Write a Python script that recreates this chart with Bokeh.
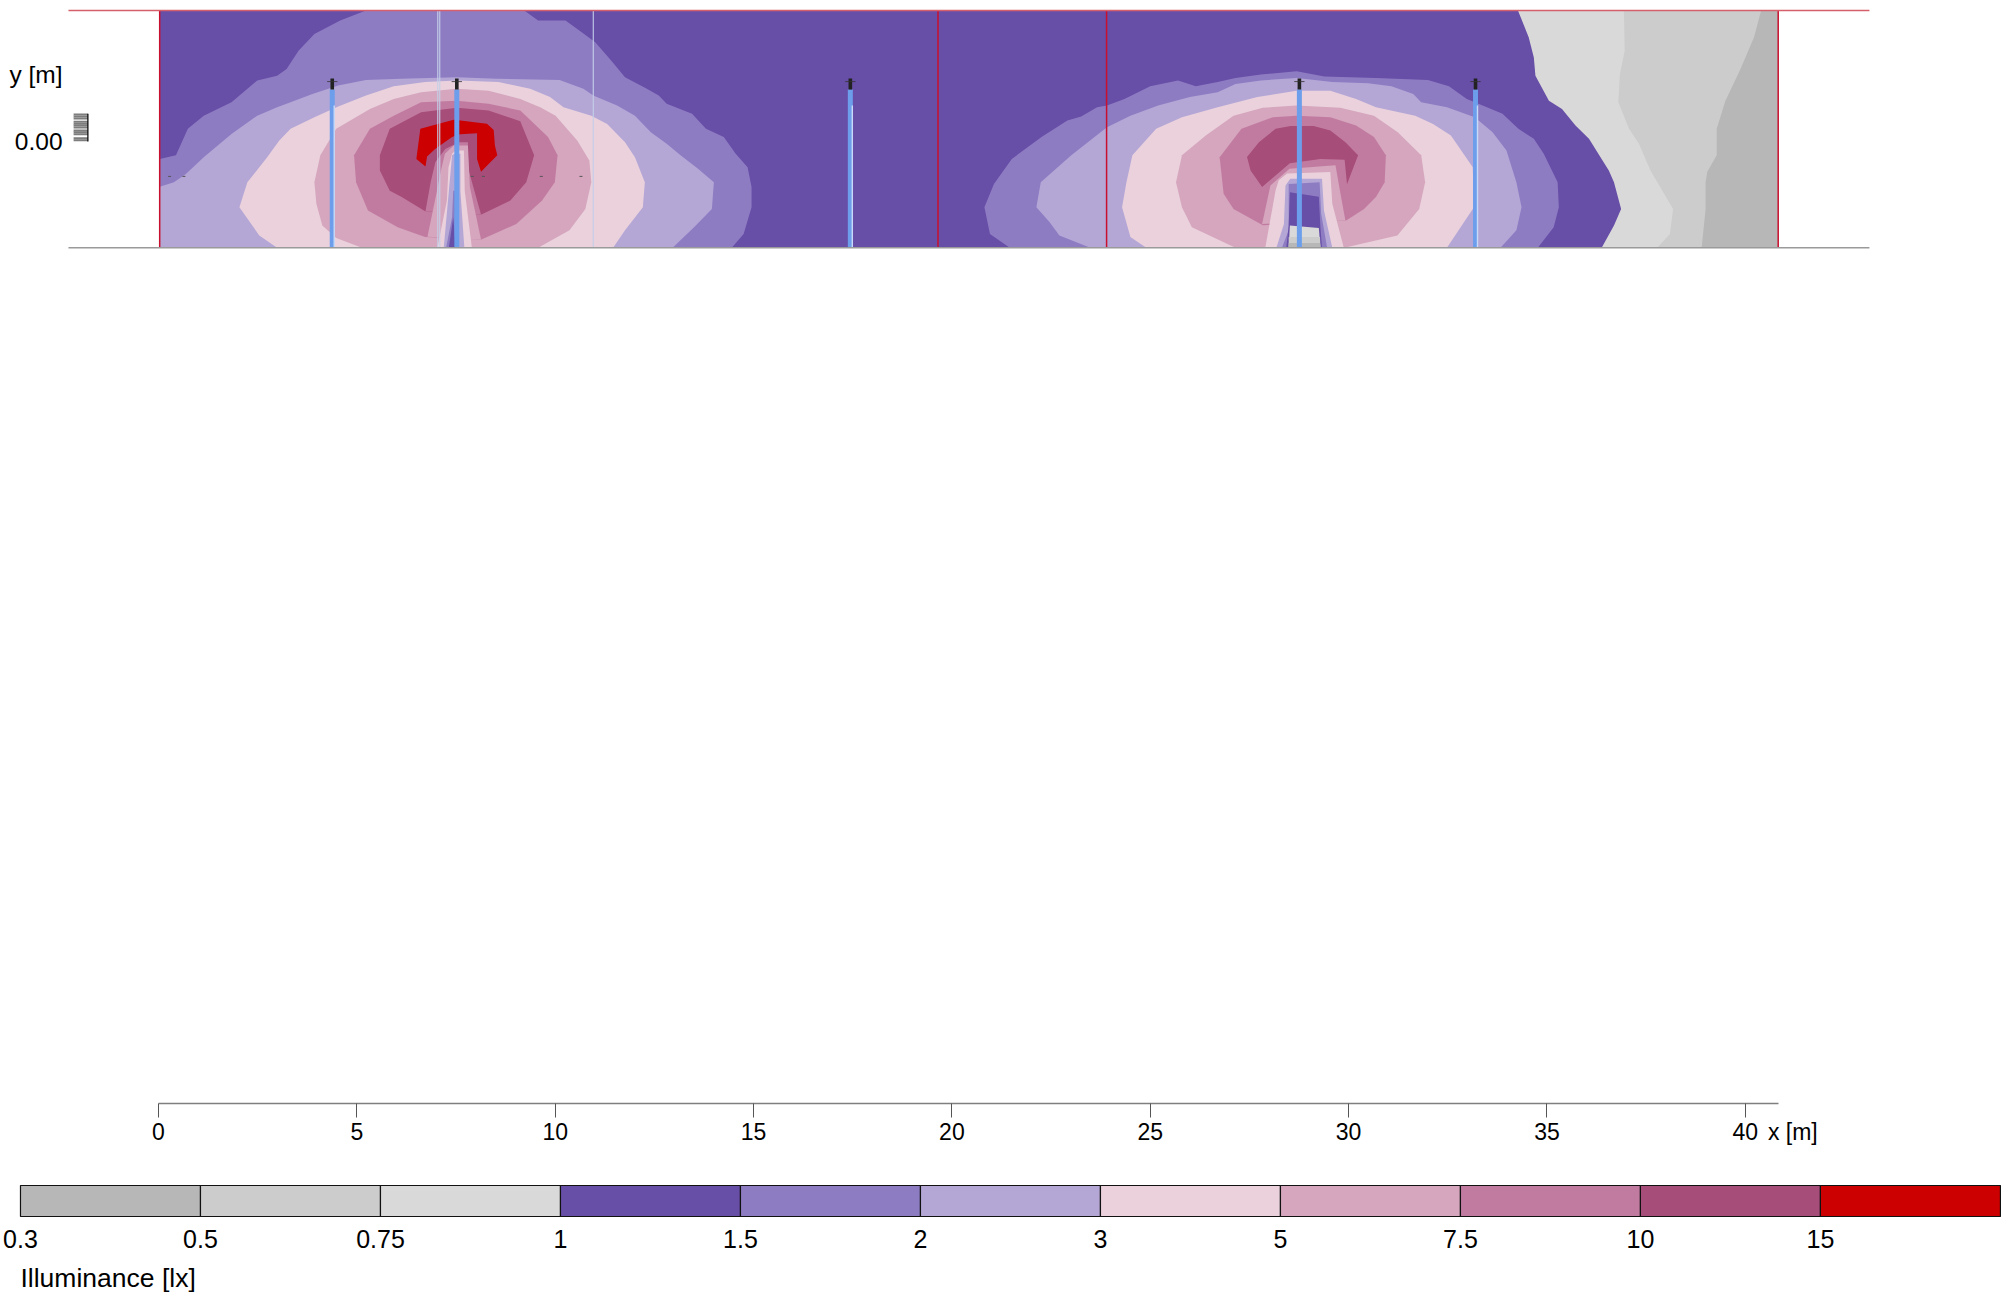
from bokeh.plotting import figure
from bokeh.layouts import column
from bokeh.models import Range1d, FixedTicker
from bokeh.core.properties import value
from bokeh.embed import file_html
from bokeh.resources import INLINE

FONT = "Liberation Sans"

# Illuminance classes
level_breaks = ["0.3", "0.5", "0.75", "1", "1.5", "2", "3", "5", "7.5", "10", "15"]
level_colors = ["#b7b7b7", "#cccccc", "#d9d9d9", "#674ea7", "#8e7cc3", "#b4a7d6",
                "#ead1dc", "#d5a6bd", "#c27ba0", "#a64d79", "#cc0000"]
C03, C05, C075, C1, C15, C2, C3, C5, C75, C10, C15P = level_colors

x_ticks = [0, 5, 10, 15, 20, 25, 30, 35, 40]
site = [[0.03, -2.68], [40.83, -2.68], [40.83, 3.30], [0.03, 3.30]]

# Isolines, [x, y] in metres
gray_075 = [[34.27,3.30],[34.54,2.63],[34.67,2.12],[34.71,1.66],[35.05,1.03],[35.38,0.82],[35.72,0.40],[36.06,0.07],[36.56,-0.73],[36.69,-1.03],[36.87,-1.70],[36.69,-2.12],[36.38,-2.68],[40.83,-2.68],[40.83,3.30]]
gray_05 = [[36.94,3.30],[36.96,2.29],[36.84,1.70],[36.80,0.99],[37.07,0.32],[37.32,-0.06],[37.61,-0.73],[38.18,-1.70],[38.10,-2.33],[37.78,-2.68],[40.83,-2.68],[40.83,3.30]]
gray_03 = [[40.40,3.30],[40.22,2.63],[39.88,1.83],[39.50,1.03],[39.28,0.32],[39.28,-0.35],[39.04,-0.77],[39.0,-1.03],[39.0,-1.70],[38.90,-2.68],[40.83,-2.68],[40.83,3.30]]

left_15 = [[0.03,-0.44],[0.44,-0.35],[0.74,0.32],[1.14,0.65],[1.84,0.99],[2.49,1.54],[2.99,1.66],[3.23,1.83],[3.53,2.29],[3.93,2.71],[4.58,3.05],[5.23,3.30],[9.22,3.30],[9.57,3.05],[10.26,3.05],[10.66,2.76],[11.01,2.50],[11.41,2.04],[11.76,1.62],[12.31,1.33],[12.61,1.16],[12.81,0.95],[13.45,0.70],[13.80,0.32],[14.25,0.11],[14.55,-0.31],[14.85,-0.65],[14.95,-1.15],[14.95,-1.66],[14.75,-2.33],[14.45,-2.68],[0.03,-2.68]]
left_2 = [[0.03,-1.14],[0.39,-1.03],[0.69,-0.82],[1.14,-0.40],[1.84,0.19],[2.49,0.65],[2.99,0.86],[3.33,0.99],[3.88,1.20],[4.53,1.41],[5.23,1.55],[6.13,1.58],[7.52,1.62],[8.52,1.58],[10.11,1.55],[10.71,1.33],[10.96,1.16],[11.56,0.91],[12.01,0.65],[12.41,0.23],[12.81,-0.06],[13.16,-0.35],[13.60,-0.69],[14.00,-1.03],[13.95,-1.70],[13.50,-2.16],[12.96,-2.68],[0.03,-2.68]]
left_3 = [[2.04,-1.66],[2.24,-1.03],[2.74,-0.40],[3.04,0.02],[3.33,0.32],[3.93,0.61],[4.53,0.88],[5.23,1.16],[5.93,1.39],[6.72,1.50],[7.52,1.54],[8.57,1.50],[9.37,1.33],[9.87,1.12],[10.21,0.86],[10.91,0.65],[11.31,0.44],[11.76,-0.02],[12.01,-0.40],[12.26,-1.03],[12.21,-1.66],[11.76,-2.24],[11.46,-2.68],[2.99,-2.68],[2.54,-2.37]]
left_5 = [[3.93,-1.03],[4.08,-0.35],[4.48,0.32],[5.33,0.82],[5.93,1.07],[6.62,1.24],[7.52,1.33],[8.32,1.28],[9.12,1.07],[9.62,0.86],[10.01,0.65],[10.56,0.02],[10.86,-0.48],[10.91,-1.03],[10.76,-1.70],[10.36,-2.24],[9.57,-2.68],[5.13,-2.68],[4.48,-2.43],[4.13,-2.12],[3.98,-1.57]]
left_75 = [[4.93,-0.35],[5.33,0.32],[5.93,0.65],[6.62,0.99],[7.52,1.03],[8.32,0.95],[9.12,0.78],[9.82,0.11],[10.06,-0.35],[9.99,-1.03],[9.67,-1.49],[9.02,-2.08],[8.14,-2.47],[6.72,-2.41],[6.03,-2.16],[5.28,-1.74],[4.98,-1.03]]
left_10 = [[5.58,-0.35],[5.83,0.32],[6.62,0.74],[7.52,0.85],[8.32,0.78],[9.12,0.51],[9.32,0.02],[9.47,-0.35],[9.27,-1.03],[8.87,-1.49],[8.14,-1.84],[6.72,-1.76],[6.13,-1.40],[5.83,-1.24],[5.58,-0.73]]
left_15p = [[6.60,0.32],[7.44,0.55],[7.61,0.53],[8.28,0.45],[8.45,0.29],[8.48,-0.10],[8.54,-0.35],[8.13,-0.76],[8.03,-0.44],[8.03,0.21],[7.61,0.18],[7.40,0.11],[6.98,-0.18],[6.77,-0.38],[6.73,-0.63],[6.50,-0.44]]
left_dip_75 = [[6.73,-1.76],[6.86,-1.03],[6.98,-0.52],[7.23,-0.19],[7.57,-0.02],[7.80,-0.02],[7.80,-0.35],[7.82,-0.73],[8.13,-1.84]]
left_dip_5 = [[6.78,-2.40],[7.02,-1.24],[7.12,-0.73],[7.22,-0.31],[7.44,-0.10],[7.80,-0.10],[7.85,-1.15],[8.13,-2.47]]
left_dip_3 = [[7.03,-2.68],[7.27,-1.49],[7.31,-0.65],[7.40,-0.31],[7.49,-0.23],[7.70,-0.23],[7.72,-1.24],[7.90,-2.68]]
left_dip_2 = [[7.19,-2.68],[7.32,-1.24],[7.40,-0.35],[7.46,-0.31],[7.61,-0.31],[7.61,-1.24],[7.71,-2.68]]
left_dip_15 = [[7.25,-2.68],[7.40,-1.91],[7.43,-1.24],[7.57,-1.24],[7.57,-2.68]]
left_dip_1 = [[7.32,-2.68],[7.43,-1.91],[7.49,-2.68]]

right_15 = [[21.46,-2.68],[20.96,-2.33],[20.82,-1.66],[21.06,-1.07],[21.51,-0.44],[22.26,0.11],[22.91,0.53],[23.26,0.63],[23.66,0.86],[23.91,0.91],[24.35,1.07],[25.00,1.39],[25.70,1.54],[26.15,1.39],[26.70,1.50],[27.15,1.60],[27.79,1.69],[28.69,1.77],[29.39,1.64],[30.69,1.60],[32.0,1.55],[32.53,1.39],[32.98,1.07],[33.38,0.91],[33.88,0.70],[34.28,0.32],[34.67,0.07],[34.92,-0.31],[35.27,-1.03],[35.30,-1.66],[35.17,-2.16],[34.77,-2.68]]
right_2 = [[23.49,-2.68],[22.71,-2.37],[22.46,-2.03],[22.13,-1.66],[22.24,-1.03],[23.01,-0.35],[23.91,0.36],[24.50,0.65],[25.20,0.91],[26.0,1.12],[26.70,1.24],[27.15,1.45],[27.79,1.54],[28.69,1.60],[29.59,1.50],[30.49,1.47],[31.08,1.39],[31.63,1.20],[31.83,0.99],[32.48,0.86],[33.18,0.61],[33.63,0.23],[33.98,-0.23],[34.23,-1.03],[34.36,-1.66],[34.23,-2.24],[33.83,-2.68]]
right_3 = [[24.90,-2.68],[24.50,-2.41],[24.29,-1.66],[24.40,-1.03],[24.55,-0.35],[25.15,0.32],[25.80,0.61],[26.70,0.86],[27.70,1.12],[28.69,1.28],[29.54,1.28],[30.19,1.07],[30.69,0.86],[31.68,0.65],[32.13,0.44],[32.58,0.15],[33.13,-0.65],[33.16,-1.66],[32.48,-2.68]]
right_5 = [[27.15,-2.68],[26.05,-2.16],[25.80,-1.66],[25.65,-1.03],[25.80,-0.35],[26.40,0.15],[27.10,0.65],[27.84,0.85],[28.69,0.91],[29.79,0.85],[30.64,0.65],[31.24,0.23],[31.83,-0.35],[31.93,-1.03],[31.78,-1.70],[31.23,-2.37],[29.89,-2.68]]
right_75 = [[27.84,-2.11],[27.10,-1.70],[26.85,-1.32],[26.75,-0.40],[27.30,0.32],[28.09,0.61],[28.69,0.65],[29.54,0.61],[30.19,0.40],[30.64,0.11],[30.94,-0.35],[30.91,-1.03],[30.69,-1.40],[30.39,-1.70],[29.94,-1.99]]
right_10 = [[27.44,-0.39],[27.74,-0.02],[28.16,0.32],[28.54,0.39],[29.12,0.39],[29.54,0.28],[29.92,-0.02],[30.24,-0.35],[29.96,-1.08],[29.90,-0.46],[29.29,-0.44],[28.52,-0.55],[27.82,-1.15],[27.53,-0.73]]
right_dip_5 = [[27.82,-2.08],[28.03,-1.11],[28.51,-0.69],[29.67,-0.60],[29.78,-1.23],[29.92,-1.99]]
right_dip_3 = [[27.90,-2.68],[28.16,-1.23],[28.24,-0.98],[28.45,-0.81],[29.54,-0.77],[29.59,-1.57],[29.88,-2.68]]
right_dip_2 = [[28.18,-2.68],[28.37,-2.08],[28.41,-1.11],[28.53,-0.94],[29.33,-0.94],[29.38,-1.74],[29.59,-2.68]]
right_dip_15 = [[28.32,-2.68],[28.49,-2.24],[28.49,-1.07],[29.27,-1.03],[29.31,-1.82],[29.46,-2.68]]
right_dip_1 = [[28.43,-2.68],[28.49,-2.12],[28.52,-1.28],[29.25,-1.39],[29.29,-2.16],[29.33,-2.68]]
right_dip_075 = [[28.49,-2.68],[28.52,-2.12],[29.25,-2.18],[29.29,-2.68]]
right_dip_05 = [[28.49,-2.68],[28.49,-2.41],[29.28,-2.41],[29.29,-2.68]]
right_dip_03 = [[28.49,-2.68],[28.49,-2.56],[29.28,-2.56],[29.29,-2.68]]

# Objects in the scene
lamp_x = [4.38, 7.52, 17.44, 28.76, 33.2]
lamp_bright = [33.25, 17.49, 4.43]
faint_walls = [7.04, 7.09, 10.96]
red_walls = [0.03, 19.65, 23.9, 40.83]
point_x = [0.28, 0.64, 7.91, 8.19, 9.65, 10.65]
point_y = [-0.88] * 6
y_stack = [0.68, 0.63, 0.58, 0.50, 0.45, 0.40, 0.35, 0.28, 0.23, 0.18, 0.08, 0.03]

layers = [
    (C075, gray_075), (C05, gray_05), (C03, gray_03),
    (C15, left_15), (C2, left_2), (C3, left_3), (C5, left_5), (C75, left_75), (C10, left_10),
    (C75, left_dip_75), (C5, left_dip_5), (C3, left_dip_3), (C2, left_dip_2), (C15, left_dip_15), (C1, left_dip_1),
    (C15P, left_15p),
    (C15, right_15), (C2, right_2), (C3, right_3), (C5, right_5), (C75, right_75),
    (C5, right_dip_5), (C3, right_dip_3), (C2, right_dip_2), (C15, right_dip_15), (C1, right_dip_1),
    (C075, right_dip_075), (C05, right_dip_05), (C03, right_dip_03),
    (C10, right_10),
]

p = figure(frame_width=2010, frame_height=1164, output_backend="svg", toolbar_location=None,
           x_range=Range1d(-3.983, 46.686), y_range=Range1d(-25.788, 3.554),
           y_axis_location=None, min_border=0, min_border_bottom=0, min_border_left=0,
           min_border_right=0, min_border_top=0, outline_line_color=None)
p.grid.visible = False

p.patch([q[0] for q in site], [q[1] for q in site], fill_color=C1, line_color=None)
for color, poly in layers:
    p.patch([q[0] for q in poly], [q[1] for q in poly], fill_color=color, line_color=None)

b, t = -2.68, 1.31
n = len(lamp_x)
p.segment(lamp_x, [b] * n, lamp_x, [t] * n, line_color="#6d9eeb", line_width=5)
k = len(lamp_bright)
p.segment(lamp_bright, [b] * k, lamp_bright, [t - 0.4] * k, line_color="#c9daf8", line_width=1.4)
p.segment(lamp_x, [1.31] * n, lamp_x, [1.59] * n, line_color="#222222", line_width=3.6)
p.segment([v - 0.13 for v in lamp_x], [1.51] * n, [v + 0.13 for v in lamp_x], [1.51] * n,
          line_color="#333333", line_width=0.8)

m = len(faint_walls)
p.segment(faint_walls, [-2.68] * m, faint_walls, [3.30] * m, line_color="#c3cfe8", line_width=1.1)
r = len(red_walls)
p.segment(red_walls, [-2.68] * r, red_walls, [3.30] * r, line_color="#c8102e", line_width=1.5)
p.segment([-2.27], [3.30], [43.13], [3.30], line_color="#d5606b", line_width=1.5)
p.segment([-2.27], [-2.68], [43.13], [-2.68], line_color="#9a9a9a", line_width=1.5)

p.scatter(point_x, point_y, marker="dash", size=3, line_color="#555555", line_width=1)

s = len(y_stack)
p.segment([-2.14] * s, y_stack, [-1.78] * s, y_stack, line_color="#7d7d7d", line_width=2)
p.segment([-1.78], [0.0], [-1.78], [0.70], line_color="#000000", line_width=1.2)
p.text([-2.42], [1.69], text=["y [m]"], text_font=value(FONT), text_font_size="24.5px",
       text_align="right", text_baseline="middle", text_color="#000000")
p.text([-2.42], [0.0], text=["0.00"], text_font=value(FONT), text_font_size="24.5px",
       text_align="right", text_baseline="middle", text_color="#000000")
p.text([40.57], [-24.98], text=["x [m]"], text_font=value(FONT), text_font_size="23px",
       text_align="left", text_baseline="middle", text_color="#000000")

ax = p.xaxis[0]
ax.fixed_location = -24.26
ax.bounds = (0, 40.85)
ax.ticker = FixedTicker(ticks=x_ticks)
ax.axis_line_color = "#7f7f7f"
ax.axis_line_width = 1.4
ax.major_tick_line_color = "#555555"
ax.major_tick_out = 14
ax.major_tick_in = 0
ax.minor_tick_out = 0
ax.minor_tick_in = 0
ax.major_label_standoff = 5
ax.major_label_text_font = FONT
ax.major_label_text_font_size = "23px"
ax.major_label_text_color = "#000000"

# Colour key
lg = figure(frame_width=2010, frame_height=129, output_backend="svg", toolbar_location=None,
            x_range=Range1d(-0.111, 11.056), y_range=Range1d(-2.484, 1.677),
            x_axis_location=None, y_axis_location=None, min_border=0, outline_line_color=None)
lg.grid.visible = False
idx = list(range(len(level_colors)))
lg.quad(left=idx, right=[i + 1 for i in idx], bottom=[0] * len(idx), top=[1] * len(idx),
        fill_color=level_colors, line_color="#111111", line_width=1.2)
lg.text(idx, [-0.72] * len(idx), text=level_breaks, text_font=value(FONT), text_font_size="25px",
        text_align="center", text_baseline="middle", text_color="#000000")
lg.text([0], [-1.97], text=["Illuminance [lx]"], text_font=value(FONT), text_font_size="26.5px",
        text_align="left", text_baseline="middle", text_color="#000000")

root = column(p, lg, spacing=0, styles={"position": "absolute", "left": "0px", "top": "0px"})
open("out.html", "w").write(file_html(root, INLINE))
